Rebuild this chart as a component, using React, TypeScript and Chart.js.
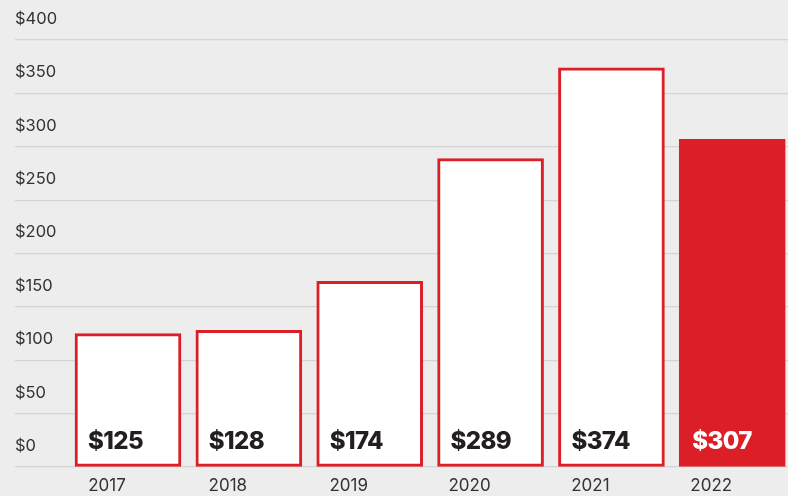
import React, { useEffect, useRef } from "react";
import { Chart, registerables } from "chart.js";

Chart.register(...registerables);

const years = ["2017", "2018", "2019", "2020", "2021", "2022"];
const values = [125, 128, 174, 289, 374, 307];
const highlightIndex = 5;
const yTicks = [0, 50, 100, 150, 200, 250, 300, 350, 400];

const RED = "#dc1e26";
const BG = "#ededed";
const FONT = "Inter, 'Open Sans', sans-serif";

const valueLabels = {
  id: "valueLabels",
  afterDatasetsDraw(chart: any) {
    const ctx = chart.ctx;
    const meta = chart.getDatasetMeta(0);
    ctx.save();
    ctx.font = `800 24px ${FONT}`;
    ctx.textAlign = "left";
    ctx.textBaseline = "alphabetic";
    try { (ctx as any).letterSpacing = "-0.6px"; } catch (e) {}
    meta.data.forEach((bar: any, i: number) => {
      const left = bar.x - bar.width / 2;
      ctx.fillStyle = i === highlightIndex ? "#ffffff" : "#231f20";
      ctx.fillText("$" + values[i], left + 13, bar.base - 17);
    });
    ctx.restore();
  },
};

export default function App() {
  const ref = useRef<HTMLCanvasElement>(null);
  useEffect(() => {
    document.body.style.margin = "0";
    document.body.style.background = BG;
    const chart = new Chart(ref.current!, {
      type: "bar",
      data: {
        datasets: [
          {
            data: values.map((v, i) => ({ x: i, y: v })),
            backgroundColor: values.map((_, i) => (i === highlightIndex ? RED : "#ffffff")),
            borderColor: RED,
            borderWidth: 3,
            borderSkipped: false,
            barThickness: 106,
          },
        ],
      },
      options: {
        responsive: false,
        animation: false,
        layout: { padding: { top: 40, left: 15, right: 0, bottom: 0 } },
        plugins: { legend: { display: false }, tooltip: { enabled: false } },
        scales: {
          x: {
            type: "linear",
            offset: false,
            min: -0.935,
            max: 5.461,
            afterBuildTicks: (scale: any) => {
              scale.ticks = years.map((_, i) => ({ value: i }));
            },
            afterFit: (scale: any) => {
              scale.height = 29;
            },
            grid: { display: false, offset: false, drawTicks: false },
            border: { display: false },
            ticks: {
              callback: (v: any) => years[Math.round(Number(v))] ?? "",
              color: "#333333",
              font: { family: FONT, size: 17 },
              padding: 9,
              labelOffset: -21,
              maxRotation: 0,
              autoSkip: false,
            },
          },
          y: {
            min: 0,
            max: 400,
            afterBuildTicks: (scale: any) => {
              scale.ticks = yTicks.map((v) => ({ value: v }));
            },
            grid: { color: "#d4d4d4", lineWidth: 1.2, drawTicks: false },
            border: { display: false },
            ticks: {
              mirror: true,
              padding: 0,
              labelOffset: -21,
              color: "#333333",
              font: { family: FONT, size: 16.5 },
              callback: (v: any) => "$" + v,
            },
          },
        },
      },
      plugins: [valueLabels],
    });
    return () => chart.destroy();
  }, []);
  return (
    <div style={{ width: 788, height: 496, background: BG }}>
      <canvas ref={ref} width={788} height={496} style={{ display: "block" }} />
    </div>
  );
}
